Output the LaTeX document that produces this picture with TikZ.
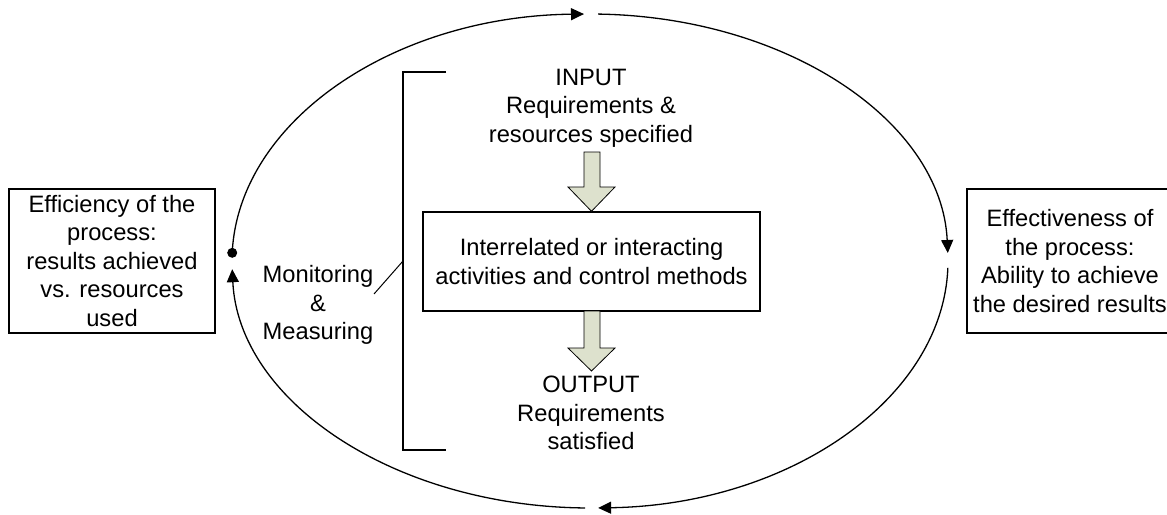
\documentclass[tikz,border=0pt]{standalone}
\usepackage{fontspec}
\setmainfont{Liberation Sans}
\usetikzlibrary{arrows.meta,calc}
\definecolor{arrowfill}{RGB}{221,225,205}
\begin{document}
\begin{tikzpicture}[x=0.5pt,y=-0.5pt,
  txt/.style={align=center,font=\fontsize{11.85pt}{14.25pt}\selectfont,inner sep=0pt},
  sidebox/.style={txt,draw,line width=0.7pt,minimum width=103pt,minimum height=72pt},
  ring/.style={line width=0.65pt,-{Triangle[length=6.5pt,width=6pt]}},
  barrow/.style={fill=arrowfill,draw,line width=0.4pt,line join=miter},
  thin line/.style={line width=0.7pt}
  ]
\useasboundingbox (0,0) rectangle (1167,514);
\clip (0,0) rectangle (1167,514);
\fill[white] (0,0) rectangle (1167,514);
\coordinate (ctr) at (590,261);

% side boxes
\node[sidebox] (eff) at (112,261) {Efficiency of the\\process:\\results achieved\\vs. resources\\used};
\node[sidebox] (eft) at (1070,261) {Effectiveness of\\the process:\\Ability to achieve\\the desired results};

% central box and texts
\node[txt,draw,line width=0.7pt,minimum width=168.5pt,minimum height=49.5pt] (act) at (591.5,261.5) {Interrelated or interacting\\activities and control methods};
\node[txt] (in) at (591,108) {INPUT\\Requirements \&\\resources specified};
\node[txt] (out) at (591,413) {OUTPUT\\Requirements\\satisfied};
\node[txt] (mon) at (318,305) {Monitoring\\\&\\Measuring};

% block arrows
\draw[barrow] (584,152) -- (600,152) -- (600,187) -- (615,187) -- (act.north) -- (568,187) -- (584,187) -- cycle;
\draw[barrow] (584,311) -- (600,311) -- (600,348) -- (615,348) -- (591.5,371) -- (568,348) -- (584,348) -- cycle;

% bracket
\draw[thin line] (446,72) -- (403,72) -- (403,450) -- (446,450);
\coordinate (brk) at (403,261);
\coordinate (monend) at (374,294);
\draw[line width=0.5pt] (monend) -- (brk);

% cycle ellipse
\node[circle,fill,inner sep=0pt,minimum size=5pt] (dot) at ($(ctr)+(181.9:358 and 247)$) {};
\draw[ring] (ctr) ++(181.9:358 and 247) arc[start angle=181.9,end angle=269.04,x radius=358,y radius=247];
\draw[ring] (ctr) ++(271.3:358 and 247) arc[start angle=271.3,end angle=358.14,x radius=358,y radius=247];
\draw[ring] (ctr) ++(361.6:358 and 247) arc[start angle=361.6,end angle=448.7,x radius=358,y radius=247];
\draw[ring] (ctr) ++(90.8:358 and 247) arc[start angle=90.8,end angle=178.1,x radius=358,y radius=247];
\end{tikzpicture}
\end{document}
